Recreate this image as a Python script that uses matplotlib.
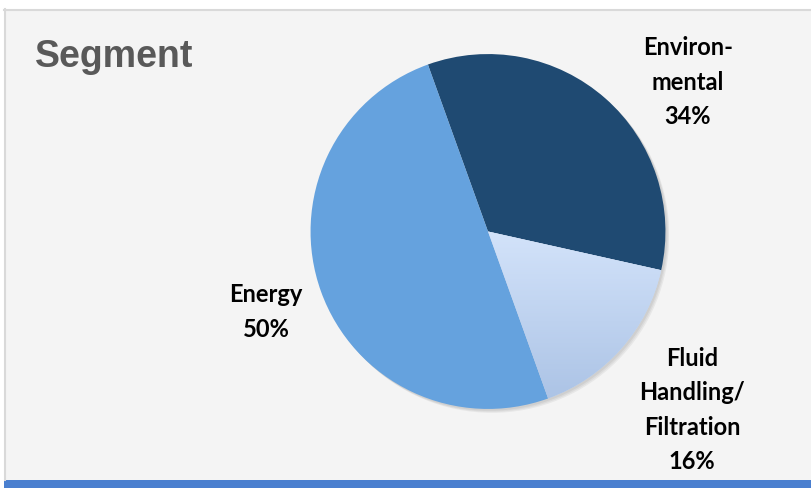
import numpy as np
import matplotlib.pyplot as plt
from matplotlib.patches import Rectangle, Circle
from matplotlib.colors import LinearSegmentedColormap

# ── Data ──────────────────────────────────────────────────────────────────────
segments = ["Environ-\nmental", "Fluid\nHandling/\nFiltration", "Energy"]
shares   = [34, 16, 50]
colors   = ["#1f4a72", "#c8dbf5", "#65a2de"]

W, H = 811, 489
BG    = "#f4f4f4"
EDGE  = "#d9d9d9"
BAR   = "#4a7fcf"

fig = plt.figure(figsize=(W / 100, H / 100), dpi=100, facecolor="white")

# background panel drawn on a full-figure axes underneath everything
bg = fig.add_axes([0, 0, 1, 1], zorder=-1)
bg.set_xlim(0, W)
bg.set_ylim(H, 0)
bg.axis("off")
bg.add_patch(Rectangle((4, 10), W - 4, 471, facecolor=BG, edgecolor="none"))
bg.plot([4.5, 4.5], [10, 481], color=EDGE, lw=1.5)
bg.plot([4, W], [10.5, 10.5], color=EDGE, lw=1.5)
bg.add_patch(Rectangle((4, 481), W - 4, 8, facecolor=BAR, edgecolor="none"))

bg.text(35, 57, "Segment", fontsize=27, fontweight="bold",
        color="#595959", family="Liberation Sans", va="center", ha="left")

# ── Pie ───────────────────────────────────────────────────────────────────────
cx, cy, r = 488, 232.5, 181
ax = fig.add_axes([(cx - r) / W, (H - cy - r) / H, 2 * r / W, 2 * r / H], zorder=2)
ax.axis("off")

# soft shadow
for k in range(3):
    ax.add_patch(Circle((0.01 + 0.006 * k, -0.01 - 0.006 * k), 1.0,
                        facecolor="black", alpha=0.05, edgecolor="none", zorder=0))

wedges, _ = ax.pie(shares, colors=colors, startangle=109.8, counterclock=False,
                   radius=1.0, wedgeprops=dict(linewidth=0))
for w in wedges:
    w.set_zorder(2)
ax.set_xlim(-1.02, 1.02)
ax.set_ylim(-1.02, 1.02)
ax.set_aspect("equal")

# gradient on the light wedge
grad = np.linspace(0, 1, 256).reshape(-1, 1)
cmap = LinearSegmentedColormap.from_list("g", ["#d3e3fa", "#a9c1e4"])
im = ax.imshow(grad, cmap=cmap, extent=(-0.05, 1.02, -1.02, 0.0), origin="upper",
               aspect="auto", zorder=3)
im.set_clip_path(wedges[1])
ax.set_xlim(-1.02, 1.02)
ax.set_ylim(-1.02, 1.02)

# ── Labels ────────────────────────────────────────────────────────────────────
lab_kw = dict(fontsize=17, fontweight="bold", family="Lato", color="black",
              ha="center", va="center", multialignment="center", linespacing=1.6)
bg.text(688, 82, f"{segments[0]}\n{shares[0]}%", **lab_kw)
bg.text(692, 410, f"{segments[1]}\n{shares[1]}%", **lab_kw)
bg.text(266, 312, f"{segments[2]}\n{shares[2]}%", **lab_kw)

fig.savefig("out.png", dpi=100, facecolor="white")
